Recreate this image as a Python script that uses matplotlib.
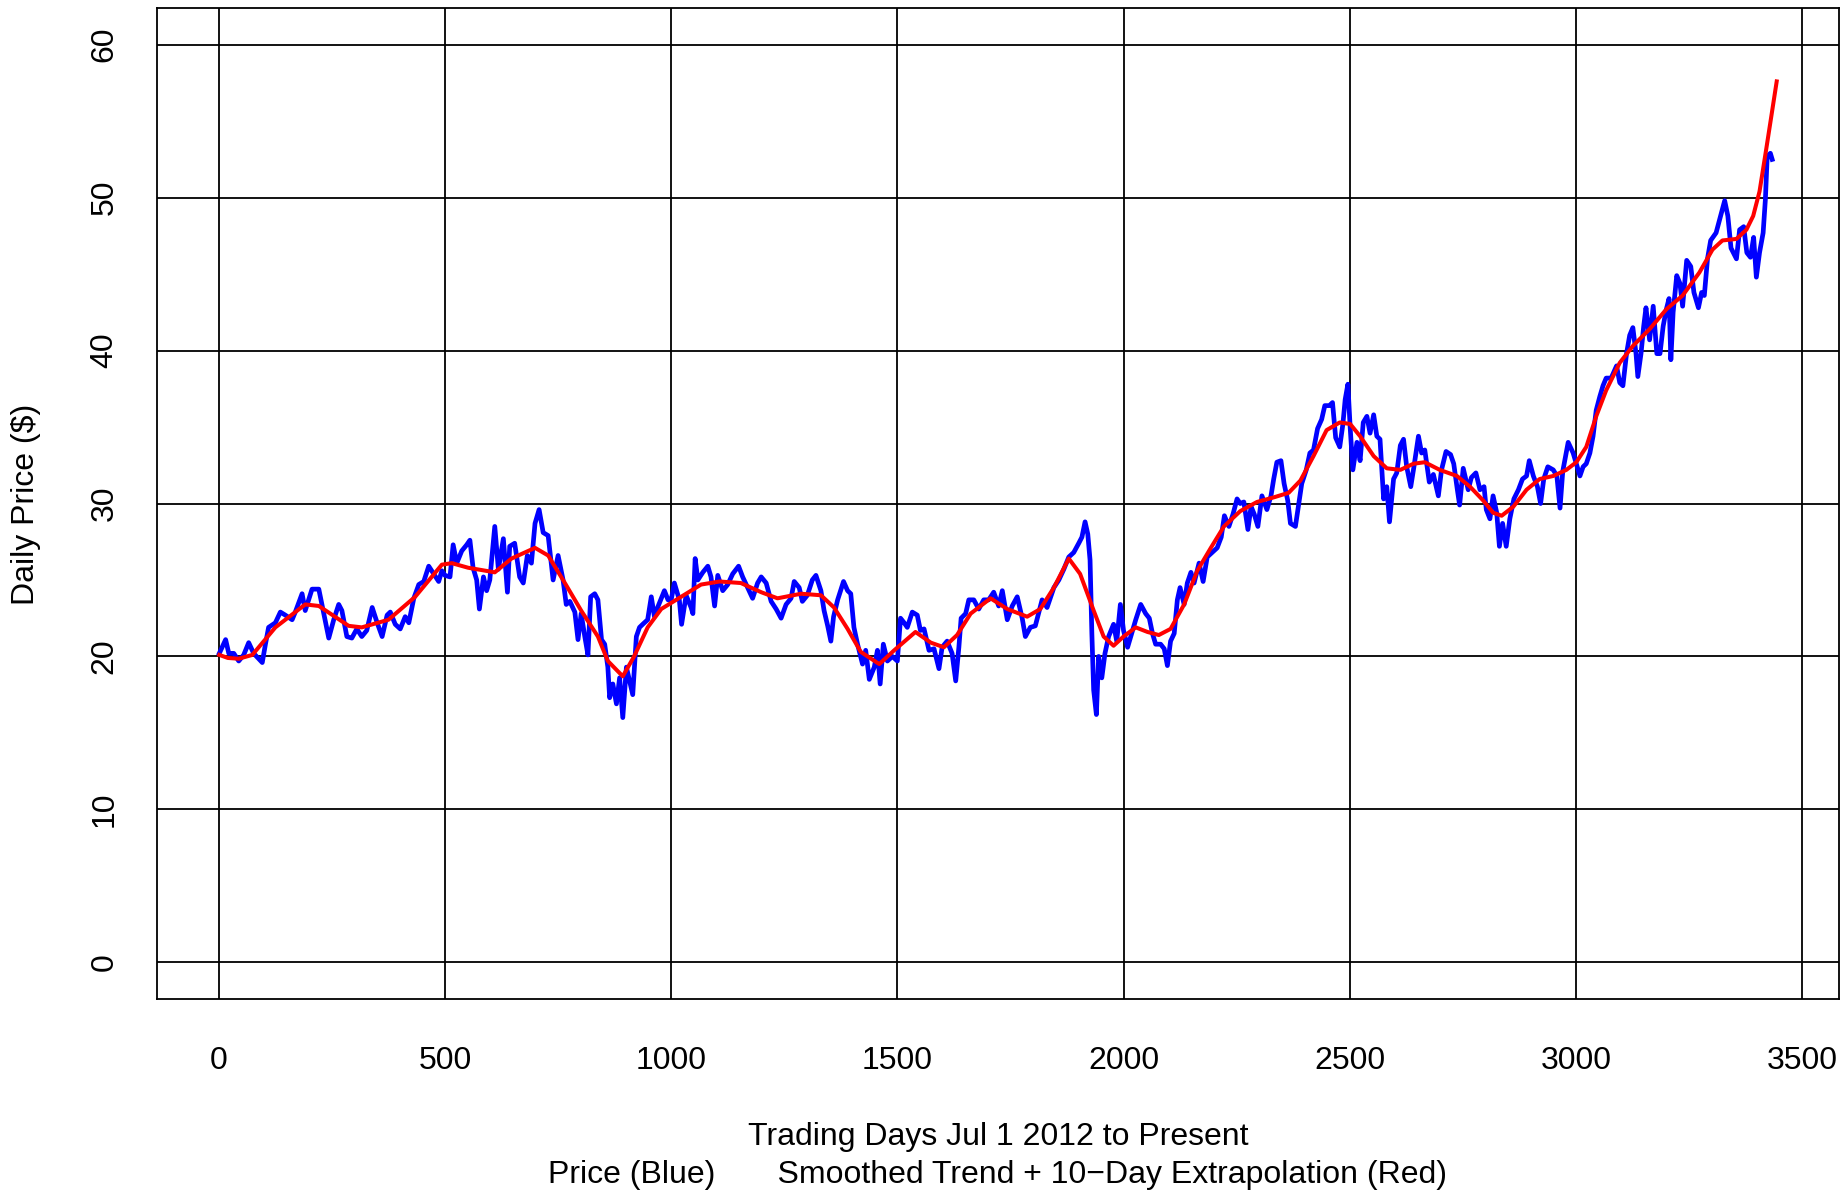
import numpy as np
import matplotlib
matplotlib.use("Agg")
import matplotlib.pyplot as plt

# daily price (blue)
price_day = [1, 15, 22, 33, 44, 55, 66, 77, 96, 103, 110, 125, 136, 147, 162, 169, 184, 191, 206, 213,
             221, 232, 243, 254, 265, 272, 283, 294, 305, 316, 327, 339, 350, 361, 372, 379, 390, 401, 412, 420,
             431, 442, 453, 464, 475, 486, 493,
             500, 511, 518, 526, 537, 548, 555, 562, 570, 576, 585, 592, 599, 610, 618, 629, 638, 643, 654, 665,
             673, 682, 691, 699, 708, 717, 728, 739, 750, 761, 768, 776, 787, 794, 801, 809, 816, 822, 831, 838,
             846, 853, 860, 864, 871, 879, 886, 893, 901, 908, 915, 923, 930, 937, 948, 956, 963, 970, 985, 993,
             1000, 1007, 1018, 1023, 1033, 1044, 1048, 1053, 1059, 1070, 1081, 1088, 1096, 1103, 1114, 1125, 1136,
             1149, 1158, 1169, 1180, 1191, 1199, 1210, 1221, 1232, 1243, 1254, 1265, 1272, 1283, 1290, 1301, 1312,
             1320, 1331, 1338, 1346, 1353, 1359, 1368, 1381, 1390, 1397, 1404, 1412, 1423, 1430, 1438, 1449, 1456,
             1462, 1469, 1478, 1489,
             1500, 1507, 1515, 1522, 1533, 1544, 1551, 1559, 1570, 1581, 1592, 1599, 1610, 1621, 1629, 1636, 1641,
             1651, 1658, 1669, 1680, 1691, 1702, 1713, 1724, 1732, 1743, 1754, 1765, 1776, 1783, 1794, 1805, 1820,
             1831, 1846, 1857, 1868, 1879, 1890, 1901, 1908, 1915, 1921, 1926, 1930, 1934, 1940, 1945, 1952, 1959,
             1967, 1978, 1985, 1993,
             2000, 2009, 2016, 2027, 2038, 2049, 2057, 2064, 2071, 2082, 2090, 2097, 2104, 2112, 2119, 2125, 2134,
             2141, 2149, 2156, 2167, 2176, 2185, 2196, 2207, 2216, 2223, 2233, 2242, 2251, 2258, 2266, 2275, 2282,
             2289, 2297, 2306, 2317, 2326, 2332, 2339, 2348, 2355, 2363, 2369, 2380, 2387, 2394, 2404, 2412, 2420,
             2429, 2438, 2445, 2455, 2462, 2469, 2478, 2485, 2490, 2496,
             2501, 2507, 2516, 2523, 2530, 2538, 2545, 2553, 2560, 2567, 2575, 2582, 2588, 2597, 2604, 2612, 2619,
             2626, 2635, 2642, 2652, 2659, 2666, 2676, 2685, 2696, 2703, 2713, 2723, 2730, 2738, 2743, 2751, 2762,
             2769, 2779, 2788, 2797, 2802, 2810, 2817, 2825, 2831, 2838, 2846, 2854, 2863, 2873, 2882, 2891, 2897,
             2906, 2915, 2922, 2929, 2938, 2950, 2958, 2965, 2971, 2983, 2994,
             3003, 3009, 3016, 3023, 3031, 3038, 3045, 3053, 3060, 3067, 3078, 3090, 3097, 3104, 3112, 3119, 3126,
             3133, 3137, 3144, 3150, 3155, 3163, 3171, 3179, 3186, 3193, 3200, 3206, 3210, 3215, 3223, 3230, 3236,
             3245, 3254, 3261, 3271, 3278, 3284, 3291, 3298, 3310, 3319, 3329, 3336, 3343, 3355, 3362, 3371, 3378,
             3386, 3393, 3399, 3406, 3414, 3419, 3423, 3430, 3434]
price = [20.2, 21.1, 20.2, 20.2, 19.7, 20.1, 20.9, 20.2, 19.6, 20.8, 21.9, 22.2, 22.9, 22.7, 22.4, 22.9, 24.1, 23.0, 24.4, 24.4,
         24.4, 22.8, 21.2, 22.4, 23.4, 23.0, 21.3, 21.2, 21.8, 21.3, 21.7, 23.2, 22.2, 21.3, 22.7, 22.9, 22.1, 21.8, 22.6, 22.2,
         23.8, 24.7, 24.9, 25.9, 25.4, 24.9, 25.6,
         25.3, 25.2, 27.3, 26.1, 26.9, 27.3, 27.6, 25.8, 25.0, 23.1, 25.2, 24.3, 25.0, 28.5, 25.7, 27.7, 24.2, 27.2, 27.4, 25.2,
         24.8, 26.6, 26.1, 28.7, 29.6, 28.1, 27.9, 25.0, 26.6, 25.0, 23.4, 23.6, 22.9, 21.1, 22.8, 21.3, 20.1, 23.9, 24.1, 23.7,
         21.1, 20.8, 19.3, 17.3, 18.2, 16.9, 18.6, 16.0, 19.3, 18.4, 17.5, 21.3, 21.9, 22.1, 22.4, 23.9, 22.6, 23.2, 24.3, 23.7,
         23.7, 24.8, 23.7, 22.1, 24.0, 23.2, 22.8, 26.4, 25.0, 25.5, 25.9, 25.2, 23.3, 25.3, 24.3, 24.7, 25.4,
         25.9, 25.2, 24.5, 23.8, 24.8, 25.2, 24.8, 23.6, 23.1, 22.5, 23.4, 23.8, 24.9, 24.5, 23.6, 24.0, 25.0,
         25.3, 24.3, 23.0, 22.0, 21.0, 22.6, 23.7, 24.9, 24.3, 24.1, 21.9, 20.8, 19.5, 20.4, 18.5, 19.3, 20.4,
         18.2, 20.8, 19.7, 20.0,
         19.7, 22.5, 22.2, 21.9, 22.9, 22.7, 21.7, 21.8, 20.4, 20.5, 19.2, 20.6, 21.0, 20.2, 18.4, 20.6, 22.5,
         22.8, 23.7, 23.7, 23.1, 23.7, 23.7, 24.2, 23.3, 24.3, 22.4, 23.3, 23.9, 22.5, 21.3, 21.9, 22.0, 23.7,
         23.2, 24.5, 25.0, 25.7, 26.5, 26.8, 27.4, 27.8, 28.8, 28.0, 26.3, 21.5, 17.8, 16.2, 20.0, 18.6, 20.2,
         21.3, 22.1, 21.0, 23.4,
         21.7, 20.6, 21.3, 22.4, 23.4, 22.8, 22.5, 21.5, 20.8, 20.8, 20.5, 19.4, 21.0, 21.5, 23.7, 24.5, 23.4,
         24.8, 25.5, 24.8, 26.1, 24.9, 26.5, 26.8, 27.1, 27.8, 29.2, 28.5, 29.3, 30.3, 30.0, 30.1, 28.3, 29.8,
         29.3, 28.5, 30.5, 29.6, 30.5, 31.6, 32.7, 32.8, 31.3, 30.2, 28.7, 28.5, 29.9, 31.3, 32.2, 33.3, 33.5,
         34.9, 35.5, 36.4, 36.4, 36.6, 34.3, 33.7, 35.2, 36.8, 37.8,
         35.0, 32.2, 34.0, 32.8, 35.3, 35.7, 34.6, 35.8, 34.4, 34.2, 30.3, 31.1, 28.8, 31.6, 32.0, 33.8, 34.2,
         32.4, 31.1, 32.4, 34.4, 33.3, 33.5, 31.4, 31.9, 30.5, 32.2, 33.4, 33.2, 32.6, 30.9, 29.9, 32.3, 30.9,
         31.7, 32.0, 30.9, 31.1, 29.6, 29.0, 30.5, 29.4, 27.2, 28.7, 27.2, 29.0, 30.3, 30.9, 31.6, 31.8, 32.8,
         31.8, 31.1, 30.0, 31.6, 32.4, 32.2, 31.8, 29.7, 32.1, 34.0, 33.3,
         32.4, 31.8, 32.4, 32.6, 33.3, 34.4, 36.1, 37.0, 37.7, 38.2, 38.2, 39.0, 37.9, 37.7, 39.8, 41.0, 41.5,
         39.8, 38.3, 39.8, 41.6, 42.8, 40.7, 42.9, 39.8, 39.8, 41.6, 42.7, 43.4, 39.4, 42.5, 44.9, 44.4, 42.9,
         45.9, 45.5, 43.8, 42.8, 43.8, 43.6, 46.0, 47.2, 47.7, 48.7, 49.8, 48.8, 46.7, 46.0, 47.9, 48.1, 46.4,
         46.1, 47.4, 44.8, 46.4, 47.7, 49.9, 52.7, 52.9, 52.5]

# smoothed trend + 10 day extrapolation (red)
trend_day = [1, 20, 44, 74, 125, 191, 221, 287, 316, 375, 434, 493, 515, 551, 610, 647, 699, 728, 765, 801,
             838, 860, 893, 918, 948, 978, 1022, 1066, 1107, 1154, 1199, 1235, 1287, 1331, 1360, 1390, 1419, 1460,
             1493, 1540, 1574, 1603, 1632, 1662, 1706, 1743, 1787, 1816, 1846, 1879, 1904, 1934, 1956, 1978, 2000,
             2027, 2053, 2078, 2104, 2134, 2163, 2193, 2222, 2258, 2295, 2332, 2365, 2391, 2420, 2449, 2478, 2501,
             2523, 2553, 2582, 2612, 2641, 2666, 2699, 2737, 2766, 2795, 2817, 2836, 2862, 2891, 2920, 2950, 2979,
             3001, 3023, 3045, 3067, 3097, 3126, 3163, 3200, 3236, 3273, 3302, 3324, 3355, 3377, 3392, 3406, 3421,
             3432, 3444]
trend = [20.1, 19.9, 19.85, 20.1, 21.9, 23.4, 23.3, 22.0, 21.9, 22.4, 23.9, 26.0, 26.1, 25.8, 25.5, 26.4, 27.1, 26.6, 24.8, 23.0,
         21.3, 19.7, 18.7, 20.0, 21.9, 23.1, 23.9, 24.7, 24.9, 24.8, 24.2, 23.8, 24.1, 24.0, 23.2, 21.8, 20.3, 19.5,
         20.4, 21.6, 20.9, 20.6, 21.4, 22.8, 23.8, 23.1, 22.6, 23.1, 24.5, 26.4, 25.4, 23.0, 21.3, 20.7, 21.3,
         21.9, 21.6, 21.4, 21.8, 23.4, 25.6, 27.1, 28.5, 29.5, 30.1, 30.4, 30.7, 31.5, 33.1, 34.8, 35.3, 35.2,
         34.4, 33.1, 32.3, 32.2, 32.6, 32.7, 32.2, 31.8, 31.1, 30.2, 29.4, 29.2, 29.8, 30.9, 31.6, 31.8, 32.2,
         32.7, 33.7, 35.7, 37.4, 39.2, 40.3, 41.4, 42.7, 43.6, 45.1, 46.6, 47.2, 47.3, 47.9, 48.8, 50.4, 53.2,
         55.3, 57.6]

xticks = [0, 500, 1000, 1500, 2000, 2500, 3000, 3500]
yticks = [0, 10, 20, 30, 40, 50, 60]

plt.rcParams['font.family'] = ['Liberation Sans', 'DejaVu Sans']
W, H = 1841, 1190
fs = 23
fig = plt.figure(figsize=(W / 100, H / 100), dpi=100)
ax = fig.add_axes([157 / W, 1 - 999 / H, (1839 - 157) / W, (999 - 8) / H])

for v in xticks:
    ax.axvline(v, color='black', lw=1.3, zorder=1)
for v in yticks:
    ax.axhline(v, color='black', lw=1.3, zorder=1)

ax.plot(price_day, price, color='#0000FF', lw=3.4, solid_joinstyle='round', zorder=2)
ax.plot(trend_day, trend, color='#FF0000', lw=2.9, zorder=3)

# R style 4% padding
x_all = price_day + trend_day
r = max(x_all) - min(x_all)
ax.set_xlim(min(x_all) - 0.04 * r, max(x_all) + 0.04 * r)
ax.set_ylim(-0.04 * 60, 60 * 1.04)

ax.set_xticks(xticks)
ax.set_yticks(yticks)
ax.tick_params(length=0, labelsize=fs)
ax.tick_params(axis='x', pad=33.5)
ax.tick_params(axis='y', pad=27)
for lab in ax.get_yticklabels():
    lab.set_rotation(90)
    lab.set_va('center')
for s in ax.spines.values():
    s.set_linewidth(1.3)

fig.text(26 / W, 1 - 504 / H, 'Daily Price ($)', rotation=90, ha='center', va='center', fontsize=fs)
fig.text(998 / W, 1 - 1145 / H, 'Trading Days Jul 1 2012 to Present', ha='center', va='baseline', fontsize=fs)
fig.text(998 / W, 1 - 1183 / H, 'Price (Blue)       Smoothed Trend + 10\u2212Day Extrapolation (Red)',
         ha='center', va='baseline', fontsize=fs)

fig.savefig('out.png', dpi=100)
